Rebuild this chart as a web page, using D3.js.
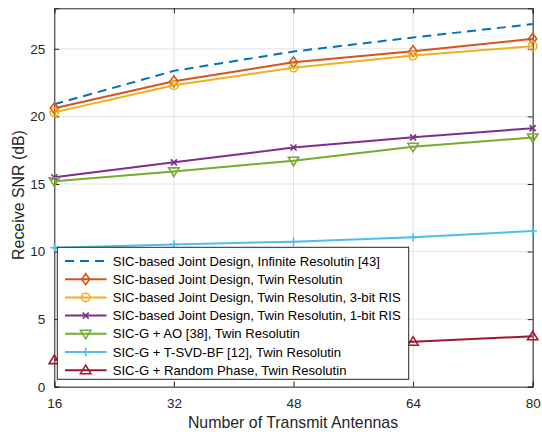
<!DOCTYPE html>
<html><head><meta charset="utf-8">
<script src="https://cdn.jsdelivr.net/npm/d3@7"></script>
<style>body{margin:0;background:#fff;} svg{display:block;font-family:"Liberation Sans",Arial,sans-serif;}</style>
</head><body>
<svg id="c" width="542" height="432"></svg>
<script>
const antennas = [16, 32, 48, 64, 80];
const xTicks = [16, 32, 48, 64, 80];
const yTicks = [0, 5, 10, 15, 20, 25];
const seriesNames = [
  "SIC-based Joint Design, Infinite Resolutin [43]",
  "SIC-based Joint Design, Twin Resolutin",
  "SIC-based Joint Design, Twin Resolutin, 3-bit RIS",
  "SIC-based Joint Design, Twin Resolutin, 1-bit RIS",
  "SIC-G + AO [38], Twin Resolutin",
  "SIC-G + T-SVD-BF [12], Twin Resolutin",
  "SIC-G + Random Phase, Twin Resolutin"
];
const infiniteRes = [20.9, 23.37, 24.8, 25.84, 26.83];
const twinRes = [20.6, 22.6, 24.0, 24.83, 25.74];
const twin3bit = [20.3, 22.3, 23.6, 24.5, 25.2];
const twin1bit = [15.5, 16.6, 17.7, 18.45, 19.13];
const sicgAO = [15.2, 15.93, 16.72, 17.75, 18.44];
const sicgTSVD = [10.28, 10.53, 10.73, 11.05, 11.52];
const sicgRandom = [1.97, 2.6, 3.0, 3.33, 3.73];

const seriesValues = [infiniteRes, twinRes, twin3bit, twin1bit, sicgAO, sicgTSVD, sicgRandom];
const colors = ["#0072BD", "#D95319", "#EDB120", "#7E2F8E", "#77AC30", "#4DBEEE", "#A2142F"];
const markers = ["none", "diamond", "circle", "x", "tridown", "plus", "triup"];
const dashes = ["9,6", null, null, null, null, null, null];

const svg = d3.select("#c");
const L = 54.3, R = 532.7, T = 8.3, B = 386.7;
const x = d3.scaleLinear().domain([16, 80]).range([L, R]);
const y = d3.scaleLinear().domain([0, 28]).range([B, T]);
const axisCol = "#262626";

// grid
svg.append("g").selectAll("line.gx").data(xTicks).join("line")
  .attr("x1", d => x(d)).attr("x2", d => x(d)).attr("y1", T).attr("y2", B)
  .attr("stroke", "#e3e3e3").attr("stroke-width", 1);
svg.append("g").selectAll("line.gy").data(yTicks).join("line")
  .attr("y1", d => y(d)).attr("y2", d => y(d)).attr("x1", L).attr("x2", R)
  .attr("stroke", "#e3e3e3").attr("stroke-width", 1);

// axes
const fs = "13.5px";
const xb = svg.append("g").attr("transform", `translate(0,${B})`)
  .call(d3.axisBottom(x).tickValues(xTicks).tickSize(-5).tickPadding(12).tickFormat(d3.format("d")));
const xt = svg.append("g").attr("transform", `translate(0,${T})`)
  .call(d3.axisTop(x).tickValues(xTicks).tickSize(-5).tickFormat(""));
const yl = svg.append("g").attr("transform", `translate(${L},0)`)
  .call(d3.axisLeft(y).tickValues(yTicks).tickSize(-5).tickPadding(9).tickFormat(d3.format("d")));
const yr = svg.append("g").attr("transform", `translate(${R},0)`)
  .call(d3.axisRight(y).tickValues(yTicks).tickSize(-5).tickFormat(""));
[xb, xt, yl, yr].forEach(g => {
  g.select(".domain").attr("stroke", axisCol);
  g.selectAll(".tick line").attr("stroke", axisCol);
  g.selectAll("text").attr("fill", axisCol).style("font-size", fs).style("font-family", "Liberation Sans, Arial, sans-serif");
});

// lines
const line = d3.line().x((d, i) => x(antennas[i])).y(d => y(d));
const plot = svg.append("g");

function marker(g, type, cx, cy, col) {
  const sw = 1.6;
  if (type === "diamond") {
    g.append("path").attr("d", `M${cx},${cy-5.5}L${cx+4},${cy}L${cx},${cy+5.5}L${cx-4},${cy}Z`)
      .attr("fill", "none").attr("stroke", col).attr("stroke-width", sw);
  } else if (type === "circle") {
    g.append("circle").attr("cx", cx).attr("cy", cy).attr("r", 4.2)
      .attr("fill", "none").attr("stroke", col).attr("stroke-width", sw);
  } else if (type === "x") {
    const s = 3;
    g.append("path").attr("d", `M${cx-s},${cy-s}L${cx+s},${cy+s}M${cx-s},${cy+s}L${cx+s},${cy-s}`)
      .attr("stroke", col).attr("stroke-width", sw);
  } else if (type === "plus") {
    const s = 4.2;
    g.append("path").attr("d", `M${cx-s},${cy}L${cx+s},${cy}M${cx},${cy-s}L${cx},${cy+s}`)
      .attr("stroke", col).attr("stroke-width", sw);
  } else if (type === "tridown") {
    g.append("path").attr("d", `M${cx-5.2},${cy-3.5}L${cx+5.2},${cy-3.5}L${cx},${cy+5}Z`)
      .attr("fill", "none").attr("stroke", col).attr("stroke-width", sw);
  } else if (type === "triup") {
    g.append("path").attr("d", `M${cx-5.2},${cy+3.5}L${cx+5.2},${cy+3.5}L${cx},${cy-5}Z`)
      .attr("fill", "none").attr("stroke", col).attr("stroke-width", sw);
  }
}

seriesValues.forEach((vals, k) => {
  const g = plot.append("g");
  g.append("path").datum(vals).attr("d", line).attr("fill", "none")
    .attr("stroke", colors[k]).attr("stroke-width", 2)
    .attr("stroke-dasharray", dashes[k]);
  vals.forEach((v, i) => marker(g, markers[k], x(antennas[i]), y(v), colors[k]));
});

// legend
const lg = svg.append("g");
const lx = 57.3, ly = 247.3, lw = 351.4, lh = 132;
lg.append("rect").attr("x", lx).attr("y", ly).attr("width", lw).attr("height", lh)
  .attr("fill", "#fff").attr("stroke", axisCol).attr("stroke-width", 1);
seriesNames.forEach((name, k) => {
  const cy = 261 + k * 18.2;
  lg.append("line").attr("x1", 65).attr("x2", 106.5).attr("y1", cy).attr("y2", cy)
    .attr("stroke", colors[k]).attr("stroke-width", 2).attr("stroke-dasharray", dashes[k]);
  marker(lg, markers[k], 85.7, cy, colors[k]);
  lg.append("text").attr("x", 112.7).attr("y", cy).attr("dy", "0.35em")
    .attr("fill", "#000").style("font-size", "13.1px").text(name);
});

// labels
svg.append("text").attr("x", (L + R) / 2 - 0.5).attr("y", 422.7).attr("dy", "0.35em")
  .attr("text-anchor", "middle").attr("fill", axisCol).style("font-size", "15.9px")
  .text("Number of Transmit Antennas");
svg.append("text").attr("transform", `translate(18.3,195) rotate(-90)`)
  .attr("dy", "0.35em").attr("text-anchor", "middle").attr("fill", axisCol).style("font-size", "15.9px")
  .text("Receive SNR (dB)");
</script>
</body></html>
